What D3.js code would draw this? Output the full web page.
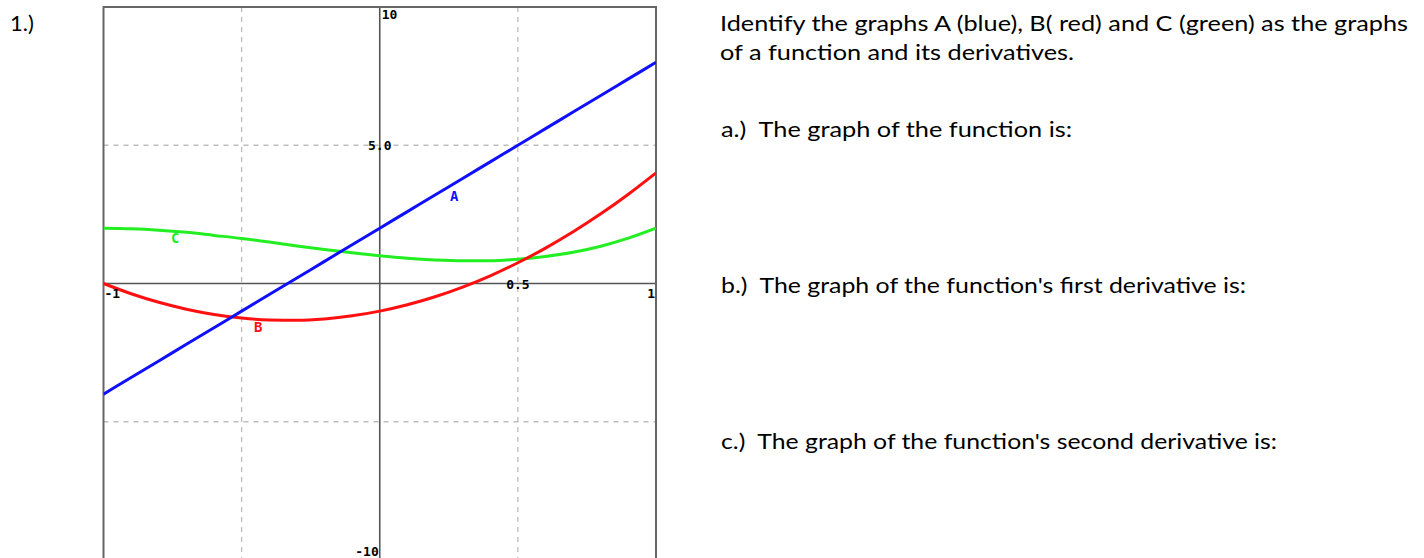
<!DOCTYPE html>
<html>

<head>
    <meta charset="UTF-8">
    <title>Function and derivatives</title>
    <script src="https://d3js.org/d3.v7.min.js"></script>
    <style>
        body { margin: 0; background: #fff; }
    </style>
</head>

<body>

    <script>
        // values, x from -1 to 1 in steps of 0.1
        var xs = [-1, -0.9, -0.8, -0.7, -0.6, -0.5, -0.4, -0.3, -0.2, -0.1, 0,
            0.1, 0.2, 0.3, 0.4, 0.5, 0.6, 0.7, 0.8, 0.9, 1];
        var blueA = [-4, -3.4, -2.8, -2.2, -1.6, -1, -0.4, 0.2, 0.8, 1.4, 2,
            2.6, 3.2, 3.8, 4.4, 5, 5.6, 6.2, 6.8, 7.4, 8];
        var redB = [0, -0.37, -0.68, -0.93, -1.12, -1.25, -1.32, -1.33, -1.28, -1.17, -1,
            -0.77, -0.48, -0.13, 0.28, 0.75, 1.28, 1.87, 2.52, 3.23, 4];
        var greenC = [2, 1.98, 1.93, 1.85, 1.74, 1.63, 1.5, 1.36, 1.23, 1.11, 1,
            0.91, 0.85, 0.82, 0.82, 0.88, 0.98, 1.13, 1.35, 1.64, 2];

        var gridX = [-0.5, 0.5];
        var gridY = [-5, 5];

        // curve labels: [name, x, y]
        var curveLabels = [["A", 0.27, 3.0], ["C", -0.74, 1.45], ["B", -0.44, -1.75]];

        var questions = [
            "a.)\u00a0 The graph of the function is:",
            "b.)\u00a0 The graph of the function's first derivative is:",
            "c.)\u00a0 The graph of the function's second derivative is:"
        ];

        var width = 1424, height = 558;
        var plotLeft = 103.5, plotRight = 656, plotTop = 7, plotBottom = 560;

        var svg = d3.select("body").append("svg")
            .attr("width", width)
            .attr("height", height);

        var x = d3.scaleLinear().domain([-1, 1]).range([plotLeft, plotRight]);
        var y = d3.scaleLinear().domain([-10, 10]).range([plotBottom, plotTop]);

        svg.append("defs").append("clipPath").attr("id", "plot")
            .append("rect")
            .attr("x", plotLeft).attr("y", plotTop)
            .attr("width", plotRight - plotLeft).attr("height", plotBottom - plotTop);

        // dashed grid
        svg.append("g").selectAll("line").data(gridX).join("line")
            .attr("x1", d => x(d)).attr("x2", d => x(d))
            .attr("y1", plotTop).attr("y2", height)
            .attr("stroke", "#bdbdbd").attr("stroke-width", 1.3)
            .attr("stroke-dasharray", "5,5");
        svg.append("g").selectAll("line").data(gridY).join("line")
            .attr("x1", plotLeft).attr("x2", plotRight)
            .attr("y1", d => y(d)).attr("y2", d => y(d))
            .attr("stroke", "#bdbdbd").attr("stroke-width", 1.3)
            .attr("stroke-dasharray", "5,5");

        // axes
        svg.append("line")
            .attr("x1", plotLeft).attr("x2", plotRight)
            .attr("y1", y(0)).attr("y2", y(0))
            .attr("stroke", "#555").attr("stroke-width", 1.6);
        svg.append("line")
            .attr("x1", x(0)).attr("x2", x(0))
            .attr("y1", plotTop).attr("y2", height)
            .attr("stroke", "#555").attr("stroke-width", 1.6);

        // frame
        svg.append("rect")
            .attr("x", plotLeft).attr("y", plotTop)
            .attr("width", plotRight - plotLeft).attr("height", plotBottom - plotTop)
            .attr("fill", "none")
            .attr("stroke", "#666").attr("stroke-width", 2);

        // curves
        var series = [
            { values: greenC, color: "#22ee22" },
            { values: redB, color: "#ff1010" },
            { values: blueA, color: "#1010ff" }
        ];
        var line = d3.line()
            .x(function (d, i) { return x(xs[i]) })
            .y(function (d) { return y(d) })
            .curve(d3.curveMonotoneX);

        svg.append("g").attr("clip-path", "url(#plot)")
            .selectAll("path").data(series).join("path")
            .attr("d", d => line(d.values))
            .attr("fill", "none")
            .attr("stroke", d => d.color)
            .attr("stroke-width", 3)
            .attr("stroke-linejoin", "round");

        // curve letters
        var letterColor = { A: "#1010ff", B: "#ff1010", C: "#22ee22" };
        svg.append("g").selectAll("text").data(curveLabels).join("text")
            .attr("x", d => x(d[1])).attr("y", d => y(d[2]))
            .attr("text-anchor", "middle")
            .attr("font-family", "DejaVu Sans Mono")
            .attr("font-weight", "bold")
            .attr("font-size", 14)
            .attr("fill", d => letterColor[d[0]])
            .text(d => d[0]);

        // tick labels
        var tickFont = function (sel) {
            sel.attr("font-family", "DejaVu Sans Mono")
                .attr("font-weight", "bold")
                .attr("font-size", 13)
                .attr("fill", "#000");
        };
        svg.append("text").call(tickFont)
            .attr("x", x(0) + 2).attr("y", y(10) + 12).text("10");
        svg.append("text").call(tickFont)
            .attr("x", x(0)).attr("y", y(5) + 5)
            .attr("text-anchor", "middle").text("5.0");
        svg.append("text").call(tickFont)
            .attr("x", x(0) - 1).attr("y", y(-10) - 4)
            .attr("text-anchor", "end").text("-10");
        svg.append("text").call(tickFont)
            .attr("x", x(0.5)).attr("y", y(0) + 5)
            .attr("text-anchor", "middle").text("0.5");
        svg.append("text").call(tickFont)
            .attr("x", x(1) - 1).attr("y", y(0) + 14)
            .attr("text-anchor", "end").text("1");
        svg.append("text").call(tickFont)
            .attr("x", x(-1) + 1).attr("y", y(0) + 14)
            .text("-1");

        // question text
        var textFont = function (sel) {
            sel.attr("font-family", "Lato, 'Open Sans', sans-serif")
                .attr("font-size", 22)
                .attr("fill", "#000");
        };
        svg.append("text").call(textFont)
            .attr("x", 10).attr("y", 31).text("1.)");
        svg.append("text").call(textFont)
            .attr("x", 720).attr("y", 31)
            .attr("textLength", 688).attr("lengthAdjust", "spacingAndGlyphs")
            .text("Identify the graphs A (blue), B( red) and C (green) as the graphs");
        svg.append("text").call(textFont)
            .attr("x", 720).attr("y", 60)
            .attr("textLength", 354).attr("lengthAdjust", "spacingAndGlyphs")
            .text("of a function and its derivatives.");

        var qLen = [351, 525, 556];
        var qY = [137, 293, 449];
        svg.append("g").selectAll("text").data(questions).join("text")
            .call(textFont)
            .attr("x", 721)
            .attr("y", (d, i) => qY[i])
            .attr("textLength", (d, i) => qLen[i])
            .attr("lengthAdjust", "spacingAndGlyphs")
            .text(d => d);
    </script>
</body>

</html>
